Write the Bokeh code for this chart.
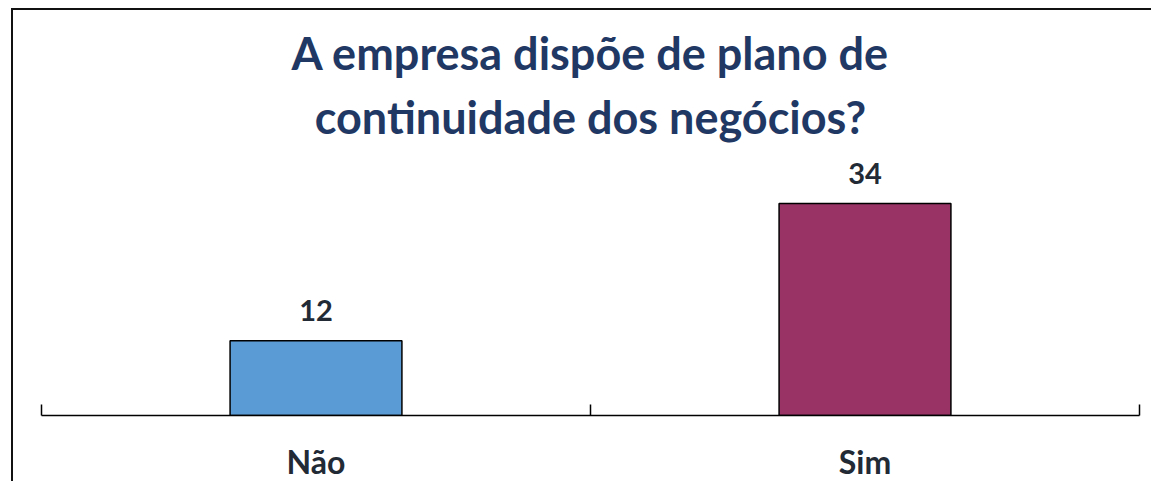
from bokeh.plotting import figure
from bokeh.models import (ColumnDataSource, LabelSet, Range1d, LinearAxis,
                          FixedTicker, Title)
from bokeh.core.properties import value
from bokeh.embed import file_html
from bokeh.resources import INLINE

# ---- data ----
categories = ["Não", "Sim"]
values = [12, 34]
bar_colors = ["#5B9BD5", "#993366"]
title_lines = ["A empresa dispõe de plano de", "continuidade dos negócios?"]

FONT = "Lato"
TEXT_COLOR = "#222A35"
TITLE_COLOR = "#1F3864"

centers = [i + 0.5 for i in range(len(categories))]
bounds = list(range(len(categories) + 1))

src = ColumnDataSource(dict(x=centers, cat=categories, val=values, color=bar_colors,
                            label=[str(v) for v in values]))

p = figure(width=1140, height=473, output_backend="svg", toolbar_location=None,
           x_range=Range1d(0, len(categories)), y_range=Range1d(0, 42.5),
           x_axis_location=None, y_axis_location=None,
           min_border_left=28, min_border_right=14, min_border_top=140, min_border_bottom=68)
p.styles = {"margin-left": "11px", "margin-top": "8px",
            "border-left": "2px solid #111", "border-top": "2px solid #111",
            "margin-bottom": "-12px"}
p.outline_line_color = None
p.grid.visible = False
p.background_fill_color = "white"
p.border_fill_color = "white"

# titles: p.title ends up outermost, the added Title sits closest to the frame
p.title.text = title_lines[0]
p.title.align = "center"
p.title.text_font = FONT
p.title.text_font_size = "45px"
p.title.text_font_style = "bold"
p.title.text_color = TITLE_COLOR
p.title.standoff = 4
t2 = Title(text=title_lines[1], align="center", text_font=FONT, text_font_size="45px",
           text_font_style="bold", text_color=TITLE_COLOR, standoff=13)
p.add_layout(t2, "above")

p.vbar(x="x", top="val", width=0.313, source=src, fill_color="color",
       line_color="#000000", line_width=1.5)

labels = LabelSet(x="x", y="val", text="label", source=src, text_align="center",
                  text_baseline="alphabetic", y_offset=20, text_font=value(FONT),
                  text_font_size=value("29px"), text_font_style="bold", text_color=TEXT_COLOR)
p.add_layout(labels)

# boundary tick axis
tick_axis = LinearAxis(ticker=FixedTicker(ticks=bounds),
                       major_label_overrides={b: "" for b in bounds},
                       major_tick_in=11, major_tick_out=0, minor_tick_line_color=None,
                       axis_line_color="#000000", axis_line_width=1.5,
                       major_tick_line_color="#000000", major_tick_line_width=1.5,
                       major_label_standoff=0, major_label_text_font_size="1px")
p.add_layout(tick_axis, "below")

cat_axis = LinearAxis(ticker=FixedTicker(ticks=centers),
                      major_label_overrides={c: n for c, n in zip(centers, categories)},
                      axis_line_color=None, major_tick_line_color=None,
                      minor_tick_line_color=None,
                      major_tick_out=0, major_tick_in=0, major_label_standoff=26,
                      major_label_text_font=FONT, major_label_text_font_size="32px",
                      major_label_text_font_style="bold", major_label_text_color=TEXT_COLOR)
p.add_layout(cat_axis, "below")

open("out.html", "w").write(file_html(p, INLINE))
